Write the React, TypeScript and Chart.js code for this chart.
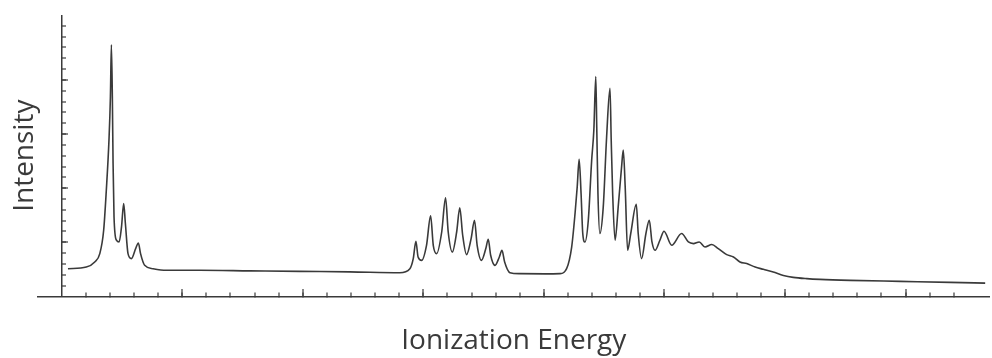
import React, { useEffect, useRef } from "react";
import { Chart, registerables } from "chart.js";

Chart.register(...registerables);

// Ionization energy (arbitrary tick units) and intensity (arbitrary units)
const band1Energy = [0.26, 1.02, 1.37, 1.58, 1.74, 1.85, 1.96, 2.02, 2.06, 2.10, 2.13, 2.17, 2.27, 2.38, 2.48, 2.57, 2.64, 2.75, 2.89, 3.07, 3.18, 3.27, 3.44, 3.79, 4.34];
const band1Intensity = [2.56, 2.71, 3.18, 3.95, 6.11, 9.81, 14.44, 18.45, 23.24, 18.45, 12.31, 7.34, 5.19, 5.03, 6.42, 8.58, 6.76, 3.95, 3.49, 4.44, 4.94, 3.95, 2.87, 2.56, 2.41];

const gap1Energy = [5.73, 7.8, 9.88, 11.95, 14.02];
const gap1Intensity = [2.41, 2.36, 2.31, 2.27, 2.19];

const band2Energy = [14.44, 14.58, 14.69, 14.78, 14.93, 15.13, 15.30, 15.41, 15.55, 15.76, 15.92, 16.03, 16.20, 16.38, 16.51, 16.63, 16.79, 16.98, 17.12, 17.23, 17.41, 17.59, 17.69, 17.79, 17.97, 18.15, 18.26, 18.37, 18.59];
const band2Intensity = [2.56, 3.49, 5.09, 3.64, 3.33, 4.72, 7.44, 4.72, 3.95, 5.95, 9.10, 5.95, 4.10, 5.95, 8.18, 5.65, 3.86, 5.34, 7.04, 4.72, 3.33, 4.42, 5.28, 3.80, 2.87, 3.64, 4.26, 3.18, 2.19];

const gap2Energy = [19.0, 20.04, 20.66];
const gap2Intensity = [2.10, 2.08, 2.10];

const band3Energy = [20.94, 21.15, 21.29, 21.38, 21.46, 21.54, 21.61, 21.70, 21.84, 21.98, 22.07, 22.15, 22.19, 22.24, 22.32, 22.46, 22.60, 22.74, 22.79, 22.85, 22.95, 23.08, 23.22, 23.29, 23.37, 23.47, 23.60, 23.83, 23.91, 24.05, 24.23, 24.37, 24.48, 24.61, 24.81, 24.98, 25.30, 25.71, 25.99, 26.20, 26.44, 26.68, 26.96, 27.23, 27.58, 27.86, 28.13, 28.41, 28.76, 29.10, 29.51, 29.93, 30.34, 30.90, 31.45];
const band3Intensity = [2.56, 4.56, 7.66, 10.12, 12.66, 9.51, 5.81, 5.03, 7.04, 12.59, 15.37, 20.31, 15.68, 9.51, 5.81, 8.27, 14.75, 19.23, 14.44, 9.51, 5.19, 8.27, 11.97, 13.52, 10.12, 4.26, 5.81, 8.52, 5.81, 3.49, 5.81, 7.04, 5.03, 4.26, 5.19, 6.02, 4.72, 5.81, 5.03, 4.88, 5.03, 4.56, 4.79, 4.42, 3.86, 3.64, 3.18, 3.03, 2.71, 2.50, 2.25, 1.94, 1.76, 1.64, 1.57];

const tailEnergy = [32.7, 34.77, 36.85, 38.3];
const tailIntensity = [1.48, 1.39, 1.30, 1.23];

const X_MIN = -1;
const X_MAX = 38.5;
const Y_MIN = 0;
const Y_MAX = 26;
const X_TITLE = "Ionization Energy";
const Y_TITLE = "Intensity";

const INK = "#3a3a3a";
const NONE = "rgba(0,0,0,0)";

function toPoints(xs: number[], ys: number[]) {
  return xs.map((x, i) => ({ x, y: ys[i] }));
}

export default function App() {
  const ref = useRef<HTMLCanvasElement | null>(null);

  useEffect(() => {
    if (!ref.current) return;
    const points = [
      ...toPoints(band1Energy, band1Intensity),
      ...toPoints(gap1Energy, gap1Intensity),
      ...toPoints(band2Energy, band2Intensity),
      ...toPoints(gap2Energy, gap2Intensity),
      ...toPoints(band3Energy, band3Intensity),
      ...toPoints(tailEnergy, tailIntensity),
    ];
    const titleFont = { family: "'Open Sans', sans-serif", size: 28, weight: "normal" as const };
    const chart = new Chart(ref.current, {
      type: "line",
      data: {
        datasets: [
          {
            data: points,
            borderColor: INK,
            borderWidth: 1.6,
            pointRadius: 0,
            fill: false,
            cubicInterpolationMode: "monotone",
          },
        ],
      },
      options: {
        animation: false,
        responsive: false,
        events: [],
        layout: { padding: { top: 15, right: 2, left: 0, bottom: 0 } },
        plugins: { legend: { display: false }, tooltip: { enabled: false } },
        scales: {
          x: {
            type: "linear",
            position: "bottom",
            min: X_MIN,
            max: X_MAX,
            ticks: { display: false, stepSize: 1 },
            border: { display: true, color: INK, width: 1.5 },
            grid: {
              drawOnChartArea: true,
              drawTicks: true,
              tickLength: -4,
              color: (c: any) => (c.tick && c.tick.value === 0 ? INK : NONE),
              lineWidth: (c: any) => (c.tick && c.tick.value === 0 ? 1.5 : 0),
              tickColor: (c: any) =>
                c.tick && c.tick.value >= 1 && Number.isInteger(c.tick.value) ? INK : NONE,
              tickWidth: 1.2,
            },
            title: {
              display: true,
              text: X_TITLE,
              color: INK,
              font: titleFont,
              padding: { top: 32, bottom: 0 },
            },
          },
          xMajor: {
            type: "linear",
            axis: "x",
            position: { y: 0 } as any,
            min: X_MIN,
            max: X_MAX,
            ticks: { display: false, stepSize: 5 },
            border: { display: false },
            grid: {
              drawOnChartArea: false,
              drawTicks: true,
              tickLength: -7,
              tickColor: (c: any) =>
                c.tick && c.tick.value > 0 && c.tick.value % 5 === 0 ? INK : NONE,
              tickWidth: 1.2,
              lineWidth: 0,
            },
          },
          y: {
            type: "linear",
            position: "left",
            min: Y_MIN,
            max: Y_MAX,
            ticks: { display: false, stepSize: 1 },
            border: { display: false },
            grid: { display: false, drawTicks: false },
            title: {
              display: true,
              text: Y_TITLE,
              color: INK,
              font: titleFont,
              padding: { top: 8, bottom: -4 },
            },
          },
          yMinor: {
            type: "linear",
            axis: "y",
            position: { x: 0 } as any,
            min: Y_MIN,
            max: Y_MAX,
            ticks: { display: false, stepSize: 1 },
            border: { display: false },
            grid: {
              drawOnChartArea: false,
              drawTicks: true,
              tickLength: -4,
              tickColor: (c: any) =>
                c.tick && c.tick.value > 0 && c.tick.value < Y_MAX ? INK : NONE,
              tickWidth: 1.2,
              lineWidth: 0,
            },
          },
          yMajor: {
            type: "linear",
            axis: "y",
            position: { x: 0 } as any,
            min: Y_MIN,
            max: Y_MAX,
            ticks: { display: false, stepSize: 5 },
            border: { display: false },
            grid: {
              drawOnChartArea: false,
              drawTicks: true,
              tickLength: -6,
              tickColor: (c: any) =>
                c.tick && c.tick.value > 0 && c.tick.value % 5 === 0 && c.tick.value < Y_MAX ? INK : NONE,
              tickWidth: 1.2,
              lineWidth: 0,
            },
          },
        },
      } as any,
    });
    return () => chart.destroy();
  }, []);

  return (
    <div style={{ position: "fixed", left: 0, top: 0, width: 992, height: 358, background: "#fff" }}>
      <canvas ref={ref} width={992} height={358} />
    </div>
  );
}
